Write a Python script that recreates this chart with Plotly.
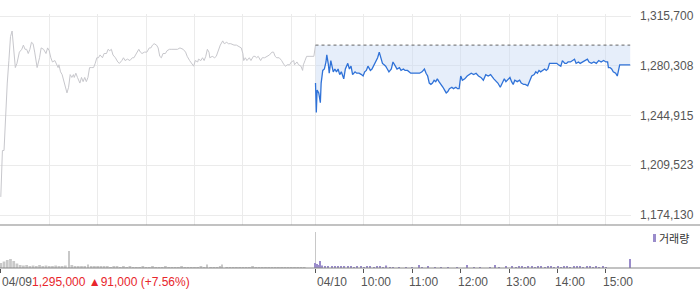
import plotly.graph_objects as go

# ---------------- data ----------------
# Day 1 (04/09): minutes after 09:00, price in thousand KRW
d1_min = [0, 2, 4, 6, 8, 10, 12, 14, 16, 18, 20, 23, 26, 28, 30, 32, 34, 36, 38, 40, 42, 45, 48, 50, 53, 56, 58, 60,
          62, 64, 67, 69, 71, 72, 74, 76, 78, 80, 82, 84, 86, 88, 90, 91, 93, 95, 98, 100, 102, 104, 106, 108, 110,
          112, 115, 117, 119, 121, 123, 126, 128, 131, 133, 135, 137, 139, 142, 145, 147, 150, 152, 154, 157, 160,
          163, 165, 169, 171, 173, 175, 178, 181, 184, 186, 188, 190, 193, 195, 197, 199, 201, 204, 206, 209, 212,
          216, 219, 222, 226, 229, 231, 234, 237, 239, 241, 244, 245, 248, 250, 252, 254, 256, 258, 259, 262, 265,
          267, 270, 272, 275, 277, 280, 282, 285, 289, 292, 295, 298, 300, 301, 303, 305, 308, 310, 313, 315, 317,
          319, 322, 324, 327, 330, 333, 336, 338, 340, 342, 345, 348, 351, 353, 355, 358, 360, 363, 364, 367, 369,
          372, 374, 375, 377, 379, 382, 386, 388, 390]
d1_price_k = [1187, 1220, 1220, 1249, 1268, 1284, 1301, 1305, 1291, 1279, 1282, 1290, 1292, 1295, 1292, 1292, 1289,
              1292, 1297, 1296, 1290, 1279, 1286, 1293, 1292, 1289, 1293, 1291, 1286, 1283, 1284, 1281, 1279, 1281,
              1276, 1274, 1269, 1265, 1261, 1265, 1274, 1272, 1274, 1272, 1275, 1272, 1268, 1272, 1269, 1272, 1269,
              1272, 1279, 1279, 1279, 1282, 1286, 1286, 1288, 1286, 1289, 1289, 1292, 1291, 1292, 1288, 1286, 1283,
              1282, 1284, 1286, 1284, 1285, 1284, 1286, 1286, 1290, 1292, 1290, 1289, 1290, 1290, 1293, 1293, 1295,
              1296, 1295, 1293, 1287, 1286, 1289, 1289, 1291, 1292, 1292, 1292, 1292, 1293, 1292, 1290, 1287, 1284,
              1282, 1280, 1284, 1283, 1285, 1284, 1286, 1284, 1287, 1292, 1290, 1286, 1287, 1286, 1287, 1292, 1295,
              1298, 1296, 1297, 1296, 1296, 1295, 1295, 1294, 1293, 1289, 1284, 1286, 1284, 1286, 1284, 1287, 1287,
              1286, 1287, 1284, 1286, 1286, 1287, 1288, 1290, 1290, 1287, 1286, 1286, 1284, 1281, 1280, 1281, 1281,
              1283, 1284, 1281, 1283, 1281, 1280, 1277, 1281, 1284, 1287, 1287, 1287, 1287, 1295]

# Day 2 (04/10): minutes after 09:00, price in thousand KRW
d2_min = [0, 1, 2, 4, 6, 7, 9, 11, 13, 14, 16, 17, 19, 21, 22, 24, 26, 28, 30, 32, 35, 37, 40, 42, 44, 46, 49, 51,
          54, 57, 59, 61, 63, 65, 68, 70, 72, 75, 77, 79, 81, 83, 85, 87, 89, 91, 94, 96, 99, 101, 104, 106, 109,
          111, 114, 116, 118, 121, 125, 129, 132, 135, 137, 139, 141, 143, 145, 147, 149, 151, 153, 156, 158, 160,
          162, 164, 166, 169, 171, 174, 176, 178, 180, 182, 185, 188, 190, 193, 196, 199, 202, 205, 208, 211, 214,
          217, 221, 223, 226, 229, 231, 234, 236, 239, 241, 243, 245, 247, 250, 253, 255, 258, 260, 263, 266, 268,
          271, 273, 275, 277, 279, 281, 284, 286, 288, 290, 292, 295, 299, 301, 304, 306, 309, 311, 313, 316, 318,
          321, 323, 326, 328, 331, 333, 337, 339, 342, 345, 348, 351, 354, 357, 360, 362, 363, 365, 367, 369, 372,
          374, 375, 377, 380, 384, 390]
d2_price_k = [1268, 1247, 1263, 1261, 1254, 1268, 1277, 1278, 1283, 1288, 1281, 1275, 1284, 1278, 1276, 1278, 1276,
              1278, 1274, 1276, 1271, 1278, 1282, 1278, 1280, 1274, 1276, 1275, 1275, 1274, 1273, 1276, 1277, 1280,
              1277, 1278, 1280, 1284, 1286, 1290, 1285, 1282, 1281, 1280, 1278, 1276, 1278, 1283, 1280, 1278, 1279,
              1277, 1278, 1277, 1277, 1276, 1275, 1275, 1275, 1275, 1276, 1278, 1275, 1273, 1268, 1267, 1268, 1270,
              1269, 1271, 1269, 1267, 1265, 1263, 1261, 1262, 1264, 1265, 1264, 1265, 1264, 1264, 1273, 1270, 1271,
              1273, 1274, 1275, 1274, 1275, 1273, 1272, 1270, 1274, 1273, 1274, 1271, 1270, 1268, 1265, 1268, 1271,
              1269, 1271, 1272, 1269, 1267, 1270, 1269, 1270, 1268, 1267, 1267, 1266, 1270, 1273, 1274, 1276, 1275,
              1277, 1276, 1277, 1278, 1277, 1278, 1282, 1282, 1282, 1282, 1281, 1280, 1284, 1282, 1282, 1283, 1283,
              1284, 1285, 1282, 1283, 1282, 1283, 1284, 1285, 1283, 1282, 1283, 1282, 1284, 1283, 1284, 1283, 1283,
              1279, 1279, 1278, 1276, 1275, 1273, 1276, 1281, 1281, 1281, 1281]

prev_close = 1295000  # 04/09 close (reference line for 04/10)

# Volume, thousand shares
v1_min = [0, 4, 8, 12, 16, 20, 24, 28, 32, 36, 40, 44, 48, 52, 56, 60, 64, 68, 72, 76, 80, 85, 88, 92, 96, 100, 104,
          108, 112, 116, 120, 124, 128, 132, 136, 140, 144, 148, 152, 156, 160, 164, 168, 172, 176, 180, 184, 188,
          192, 196, 200, 204, 208, 212, 216, 220, 224, 228, 232, 236, 240, 244, 248, 252, 255, 260, 264, 268, 272,
          274, 280, 284, 288, 292, 296, 300, 304, 308, 312, 316, 320, 324, 328, 332, 336, 340, 344, 348, 352, 356,
          360, 364, 368, 372, 376, 390]
v1_vol_k = [5, 6.5, 8, 9, 7, 4.5, 3, 2.5, 3, 2, 2.5, 2, 3, 2, 2.5, 2, 2, 2.5, 2, 1.5, 2.5, 17, 3, 2, 1.5, 2, 1.5, 3.5,
            2, 1.5, 1.5, 2, 1.5, 1.5, 1, 1.5, 1.5, 1, 1.5, 1, 1.5, 1, 1, 1, 1.5, 1, 1, 1.5, 1, 1, 1, 1.5, 1, 1, 1, 1,
            1.5, 1, 1, 1, 1, 1, 1.5, 1, 3.5, 1, 1, 1, 1.5, 3.5, 1, 1, 1, 1, 1, 1, 1, 1, 1.5, 1, 1, 1, 1, 1, 1, 1, 1,
            1, 1, 1, 1, 1, 1, 0.5, 0.5, 36]
v2_min = [0, 2, 4, 6, 8, 12, 16, 20, 24, 28, 32, 36, 40, 44, 48, 52, 56, 60, 64, 68, 72, 76, 80, 84, 88, 92, 96, 104,
          112, 120, 128, 132, 140, 148, 156, 164, 176, 188, 196, 204, 216, 222, 228, 236, 244, 248, 252, 256, 260,
          264, 268, 272, 276, 280, 284, 288, 292, 296, 300, 304, 308, 312, 316, 320, 324, 328, 332, 336, 340, 344,
          348, 352, 356, 360, 390]
v2_vol_k = [5, 4, 3, 7, 2.5, 2, 1.5, 2, 1.5, 1.5, 1.5, 1.5, 1.5, 2, 1, 1.5, 1.5, 1, 1.5, 1.5, 1, 1.5, 1.5, 1, 2.5, 1,
            1, 1, 1, 1, 3, 1, 1.5, 1, 1, 1, 1, 3, 1, 1, 1, 3, 1, 1.5, 1.5, 1, 1.5, 1.5, 1, 1.5, 1.5, 1, 1.5, 1.5, 1,
            1.5, 1.5, 1, 1.5, 1, 1.5, 1.5, 1, 1.5, 1.5, 1.5, 1, 1.5, 1.5, 1, 1.5, 1, 1.5, 1, 9]

y_tickvals = [1174130, 1209523, 1244915, 1280308, 1315700]
y_ticktext = ["1,174,130", "1,209,523", "1,244,915", "1,280,308", "1,315,700"]
x_tickvals = [0, 390, 450, 510, 570, 630, 690, 750]
x_ticktext = ["04/09", "04/10", "10:00", "11:00", "12:00", "13:00", "14:00", "15:00"]
grid_x = [0, 60, 120, 180, 240, 300, 360, 390, 450, 510, 570, 630, 690, 750]
header_text = "1,295,000 ▲91,000 (+7.56%)"
legend_text = "거래량"

# ---------------- layout constants ----------------
W, H = 700, 289
ML, MR, MT, MB = 0, 69, 14, 21
PW, PH = W - ML - MR, H - MT - MB
DAY = 390
FONT = "Liberation Sans, Arial, sans-serif"
GRID = "#ebebeb"
AXIS = "#858585"
PURPLE = "#9a8ccb"


def py(px):  # pixel y -> paper y
    return (H - MB - px) / PH


def px_(x):  # pixel x -> paper x
    return (x - ML) / PW


d1_price = [p * 1000 for p in d1_price_k]
d2_price = [p * 1000 for p in d2_price_k]
d2_x = [DAY + m for m in d2_min]

fig = go.Figure()
fig.add_trace(go.Scatter(x=d1_min, y=d1_price, mode="lines",
                         line=dict(color="#c7c7cc", width=1), hoverinfo="skip"))
fig.add_trace(go.Scatter(x=[DAY, 2 * DAY], y=[prev_close, prev_close], mode="lines",
                         line=dict(color="#666666", width=1, dash="dot"), hoverinfo="skip"))
fig.add_trace(go.Scatter(x=d2_x, y=d2_price, mode="lines", fill="tonexty",
                         fillcolor="rgba(200,218,245,0.45)",
                         line=dict(color="#2f72d8", width=1.3), hoverinfo="skip"))


def widths(vals, wide, thin):
    out = []
    for i, v in enumerate(vals):
        nb = [vals[j] for j in (i - 1, i + 1) if 0 <= j < len(vals)]
        out.append(thin if v > 1.6 * max(nb) else wide)
    return out


v1_vol = [v * 1000 for v in v1_vol_k]
v2_vol = [v * 1000 for v in v2_vol_k]
fig.add_trace(go.Bar(x=v1_min, y=v1_vol, width=widths(v1_vol_k, 3.4, 1.2), xaxis="x2", yaxis="y2",
                     marker=dict(color="#c8c8c8", line=dict(width=0)), hoverinfo="skip"))
fig.add_trace(go.Bar(x=[DAY + m for m in v2_min], y=v2_vol, width=1.4, xaxis="x2", yaxis="y2",
                     marker=dict(color=PURPLE, line=dict(width=0)), hoverinfo="skip"))

price_lo = 1167016
price_hi = 1317123
price_dom = [py(225), 1]
vol_dom = [0, py(226)]

annotations = []
for v, t in zip(x_tickvals, x_ticktext):
    is_date = "/" in t
    txt = t
    if v == 0:
        txt = t + "<span style='color:#e8262c'>" + header_text + "</span>"
    annotations.append(dict(x=v, xref="x", y=0, yref="paper", yanchor="middle", yshift=-14,
                            xanchor="left", xshift=(-1 if is_date else -5), text=txt, showarrow=False,
                            font=dict(family=FONT, size=12, color="#555555")))
annotations.append(dict(x=px_(657), xref="paper", y=py(238), yref="paper", xanchor="left", yanchor="middle",
                        text=legend_text, showarrow=False,
                        font=dict(family="Noto Sans CJK KR", size=11, color="#333333")))

shapes = [
    dict(type="line", xref="paper", yref="paper", x0=0, x1=W / PW, y0=py(225), y1=py(225),
         line=dict(color=AXIS, width=1)),
    dict(type="line", xref="paper", yref="paper", x0=0, x1=W / PW, y0=0, y1=0,
         line=dict(color=AXIS, width=1)),
    dict(type="rect", xref="paper", yref="paper", x0=px_(653), x1=px_(656), y0=py(242), y1=py(234),
         fillcolor=PURPLE, line=dict(width=0)),
]

fig.update_layout(
    width=W, height=H, margin=dict(l=ML, r=MR, t=MT, b=MB),
    paper_bgcolor="white", plot_bgcolor="white", showlegend=False, barmode="overlay",
    xaxis=dict(domain=[0, 1], range=[-1, 781], anchor="y", tickmode="array", tickvals=grid_x,
               showticklabels=False, showgrid=True, gridcolor=GRID, gridwidth=1, zeroline=False,
               showline=False, ticks=""),
    yaxis=dict(domain=price_dom, range=[price_lo, price_hi], side="right", tickmode="array",
               tickvals=y_tickvals, ticktext=y_ticktext, showgrid=True, gridcolor=GRID, zeroline=False,
               showline=False, ticks="", ticklabelstandoff=8,
               tickfont=dict(family=FONT, size=12, color="#555555")),
    xaxis2=dict(domain=[0, 1], matches="x", anchor="y2", tickmode="array", tickvals=x_tickvals,
                showticklabels=False, showgrid=False, zeroline=False, showline=False,
                ticks="outside", ticklen=4, tickcolor="#555555", tickwidth=1),
    yaxis2=dict(domain=vol_dom, range=[0, 42000], showgrid=False, showticklabels=False,
                zeroline=False, showline=False, ticks=""),
    annotations=annotations, shapes=shapes,
)

fig.write_html("out.html")
